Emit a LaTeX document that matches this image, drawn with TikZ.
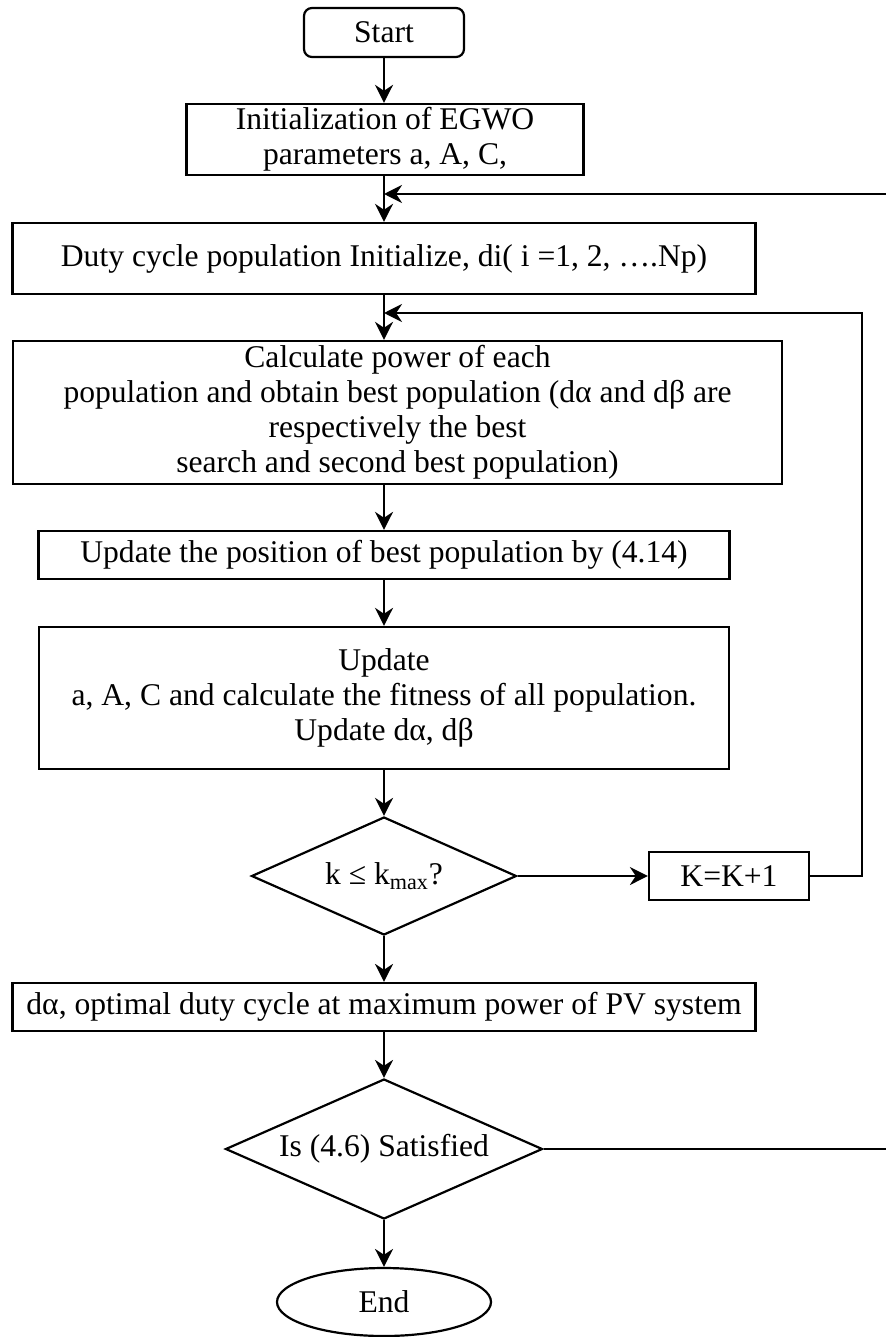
\documentclass[tikz,border=0pt]{standalone}
\usepackage{fontspec}
\setmainfont{Liberation Serif}
\usetikzlibrary{shapes.geometric,arrows.meta,positioning}
\tikzset{>={Stealth[length=9pt,width=9pt]}}
\tikzset{
  base/.style={draw,line width=1.1pt,inner sep=0pt,align=center,
    font=\fontsize{15.8}{17.5}\selectfont},
  startbox/.style={base,rectangle,rounded corners=4pt},
  procbox/.style={base,rectangle},
  decision/.style={base,diamond,aspect=2.25},
  stopbox/.style={base,ellipse},
  flow/.style={->,line width=1.1pt},
}

\begin{document}
\begin{tikzpicture}[x=0.5pt,y=-0.5pt]
\useasboundingbox (0,0) rectangle (886,1337);

% boxes, top to bottom
\node[startbox,minimum width=80pt,minimum height=24.5pt] (start) at (384,32.5) {Start};
\node[procbox,minimum width=198.5pt,minimum height=35.5pt] (init) at (385,139.5)
  {Initialization of EGWO\\parameters a, A, C,};
\node[procbox,minimum width=371.5pt,minimum height=35.5pt] (duty) at (384,258.5)
  {Duty cycle population Initialize, di( i =1, 2, ….Np)};
\node[procbox,minimum width=384.5pt,minimum height=71.5pt] (calc) at (397.5,412.5)
  {Calculate power of each\\population and obtain best population (dα and dβ are\\respectively the best\\search and second best population)};
\node[procbox,minimum width=345.5pt,minimum height=24pt] (upd) at (384,555)
  {Update the position of best population by (4.14)};
\node[procbox,minimum width=345pt,minimum height=71pt] (updt) at (384,698)
  {Update\\a, A, C and calculate the fitness of all population.\\Update dα, dβ};
\node[decision,minimum width=132.5pt,minimum height=59pt] (chk) at (384,876)
  {k ≤ k\textsubscript{max}?};
\node[procbox,minimum width=80pt,minimum height=24pt] (kbox) at (729,876) {K=K+1};
\node[procbox,minimum width=371.5pt,minimum height=24pt] (best) at (384,1007)
  {dα, optimal duty cycle at maximum power of PV system};
\node[decision,minimum width=158.5pt,minimum height=70pt] (sat) at (384,1149)
  {\raisebox{3pt}{Is (4.6) Satisfied}};
\node[stopbox,minimum width=107pt,minimum height=34pt] (fin) at (384,1302) {End};

% loop joints
\coordinate (j1) at (384,194);
\coordinate (j2) at (384,313);
\coordinate (edge1) at (886,194);
\coordinate (edge2) at (886,1149);

% main flow
\draw[flow] (start) -- (init.north -| start);
\draw[flow] (init.south -| start) -- (duty.north);
\draw[flow] (duty.south) -- (calc.north -| duty);
\draw[flow] (calc.south -| upd) -- (upd.north);
\draw[flow] (upd) -- (updt);
\draw[flow] (updt) -- (chk);
\draw[flow] (chk) -- (kbox);
\draw[flow] (chk) -- (best);
\draw[flow] (best) -- (sat);
\draw[flow] (sat) -- (fin);

% feedback
\draw[flow] (kbox.east) -- ++(52,0) |- (j2);
\draw[flow] (edge1) -- (j1);
\draw[line width=1.1pt] (sat.east) -- (edge2);

\end{tikzpicture}
\end{document}
